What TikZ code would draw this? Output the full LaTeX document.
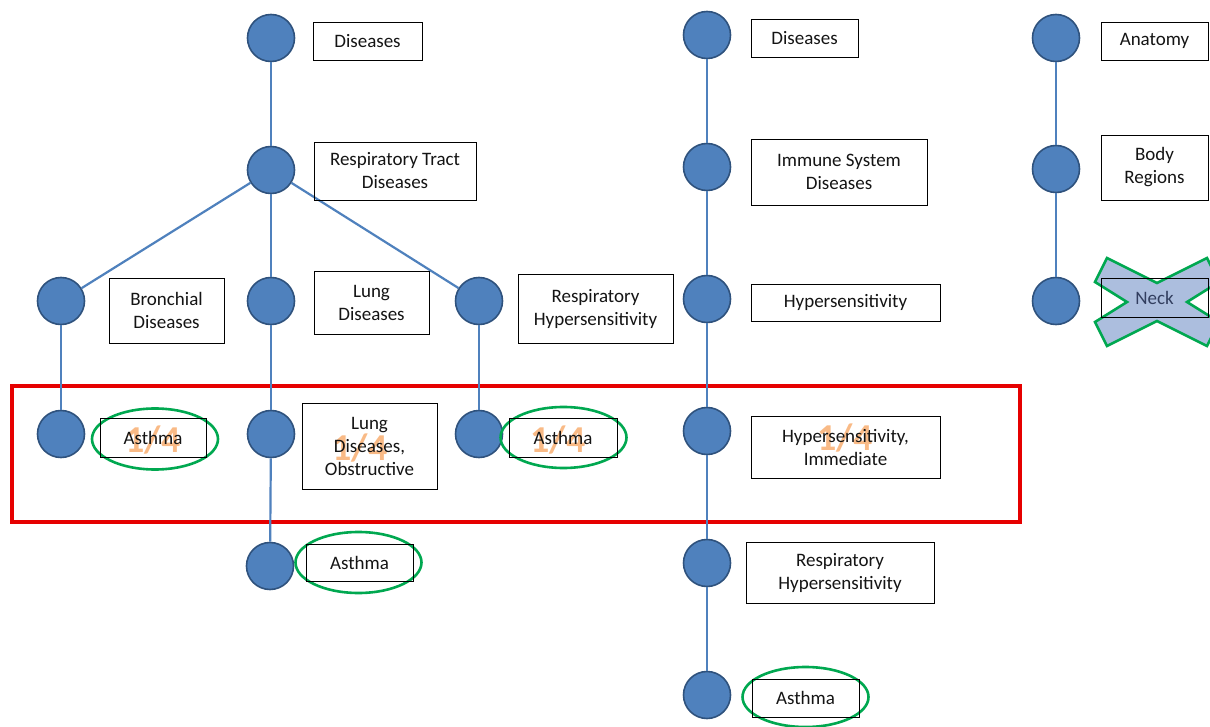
\documentclass[tikz,border=0pt]{standalone}
\usepackage{fontspec}
\setmainfont{Carlito}
\usetikzlibrary{shapes.geometric}
\definecolor{dotfill}{RGB}{79,129,189}
\definecolor{dotborder}{RGB}{47,82,125}
\definecolor{linec}{RGB}{79,129,189}
\definecolor{ringc}{RGB}{0,168,80}
\definecolor{fracc}{RGB}{247,150,70}
\definecolor{redc}{RGB}{230,0,0}
\definecolor{xfill}{RGB}{172,190,222}
\definecolor{textc}{RGB}{20,20,20}
\definecolor{neckc}{RGB}{50,62,95}
\tikzset{
  dot/.style={circle, fill=dotfill, draw=dotborder, line width=1.6pt, minimum size=47pt, inner sep=0pt},
  lbl/.style={draw=black, line width=0.9pt, align=center, inner sep=0pt, font=\fontsize{19}{23}\selectfont, text=textc},
  conn/.style={draw=linec, line width=2.2pt},
  ring/.style={ellipse, draw=ringc, line width=2.6pt, inner sep=0pt},
  frac/.style={text=fracc, opacity=0.65, inner sep=0pt, font=\fontsize{38}{40}\selectfont\bfseries},
  hilite/.style={draw=redc, line width=3.5pt},
  cross/.style={fill=xfill, draw=ringc, line width=2.6pt, line join=miter}
}
\begin{document}
\begin{tikzpicture}[x=1pt,y=-1pt]
\useasboundingbox (0,0) rectangle (1210,727);
\fill[white] (0,0) rectangle (1210,727);
% red highlight frame
\node[hilite, rectangle, minimum width=1008pt, minimum height=136pt, inner sep=0pt] (frame) at (516,454) {};
% circles
\node[dot] (c1) at (271,38) {};
\node[dot] (c2) at (271,170) {};
\node[dot] (c3) at (61,301) {};
\node[dot] (c4) at (271,301) {};
\node[dot] (c5) at (479,301) {};
\node[dot] (c6) at (61,434) {};
\node[dot] (c7) at (271,434) {};
\node[dot] (c8) at (479,434) {};
\node[dot] (c9) at (270,566) {};
\node[dot] (d1) at (707,35) {};
\node[dot] (d2) at (707,167) {};
\node[dot] (d3) at (707,299) {};
\node[dot] (d4) at (707,431) {};
\node[dot] (d5) at (707,563) {};
\node[dot] (d6) at (707,695) {};
\node[dot] (e1) at (1056,38) {};
\node[dot] (e2) at (1056,169) {};
\node[dot] (e3) at (1056,301) {};
% connectors
\draw[conn] (c1) -- (c2);
\draw[conn] (c2) -- (c3);
\draw[conn] (c2) -- (c4);
\draw[conn] (c2) -- (c5);
\draw[conn] (c3) -- (c6);
\draw[conn] (c4) -- (c7);
\draw[conn] (c5) -- (c8);
\draw[conn] (c7) -- (c9);
\draw[conn] (d1) -- (d2);
\draw[conn] (d2) -- (d3);
\draw[conn] (d3) -- (d4);
\draw[conn] (d4) -- (d5);
\draw[conn] (d5) -- (d6);
\draw[conn] (e1) -- (e2);
\draw[conn] (e2) -- (e3);
% green rings
\node[ring, minimum width=126pt, minimum height=61pt] (r1) at (155,439) {};
\node[ring, minimum width=126pt, minimum height=61pt] (r2) at (563.5,437.5) {};
\node[ring, minimum width=126pt, minimum height=61pt] (r3) at (358.5,562.5) {};
\node[ring, minimum width=126pt, minimum height=60pt] (r4) at (805.5,697) {};
% 1/4 marks
\node[frac] (f1) at (153,440) {1/4};
\node[frac] (f2) at (360,448) {1/4};
\node[frac] (f3) at (558,440) {1/4};
\node[frac] (f4) at (845,438) {1/4};
% cross over Neck
\draw[cross] (1095,282) -- (1107,258) -- (1157,283) -- (1207,258) -- (1219,282) -- (1187,302)
  -- (1219,322) -- (1207,346) -- (1157,321) -- (1107,346) -- (1095,322) -- (1127,302) -- cycle;
% label boxes
\node[lbl, minimum width=109pt, minimum height=38pt] (b1) at (367.5,41) {Diseases};
\node[lbl, minimum width=162pt, minimum height=58pt] (b2) at (395,171) {Respiratory Tract\\Diseases};
\node[lbl, minimum width=115pt, minimum height=65pt] (b3) at (166.5,310.5) {Bronchial\\Diseases};
\node[lbl, minimum width=115pt, minimum height=63pt] (b4) at (371.5,303) {Lung\\Diseases};
\node[lbl, minimum width=155pt, minimum height=69pt] (b5) at (595.5,308.5) {Respiratory\\Hypersensitivity};
\node[lbl, minimum width=106pt, minimum height=39pt] (b6) at (153,437.5) {Asthma};
\node[lbl, minimum width=135pt, minimum height=86pt] (b7) at (369.5,446) {Lung\\Diseases,\\Obstructive};
\node[lbl, minimum width=108pt, minimum height=39pt] (b8) at (563,437.5) {Asthma};
\node[lbl, minimum width=107pt, minimum height=37pt] (b9) at (359.5,562.5) {Asthma};
\node[lbl, minimum width=107pt, minimum height=38pt] (g1) at (804.5,38) {Diseases};
\node[lbl, minimum width=176pt, minimum height=66pt] (g2) at (839,172) {Immune System\\Diseases};
\node[lbl, minimum width=189pt, minimum height=37pt] (g3) at (845.5,302.5) {Hypersensitivity};
\node[lbl, minimum width=189pt, minimum height=62pt] (g4) at (845.5,447) {Hypersensitivity,\\Immediate};
\node[lbl, minimum width=188pt, minimum height=61pt] (g5) at (840,572.5) {Respiratory\\Hypersensitivity};
\node[lbl, minimum width=107pt, minimum height=38pt] (g6) at (805.5,698) {Asthma};
\node[lbl, minimum width=107pt, minimum height=38pt] (h1) at (1154.5,41) {Anatomy};
\node[lbl, minimum width=107pt, minimum height=65pt] (h2) at (1154.5,167.5) {Body\\Regions};
\node[lbl, minimum width=107pt, minimum height=39pt, text=neckc] (h3) at (1154.5,297.5) {Neck};
\end{tikzpicture}
\end{document}
